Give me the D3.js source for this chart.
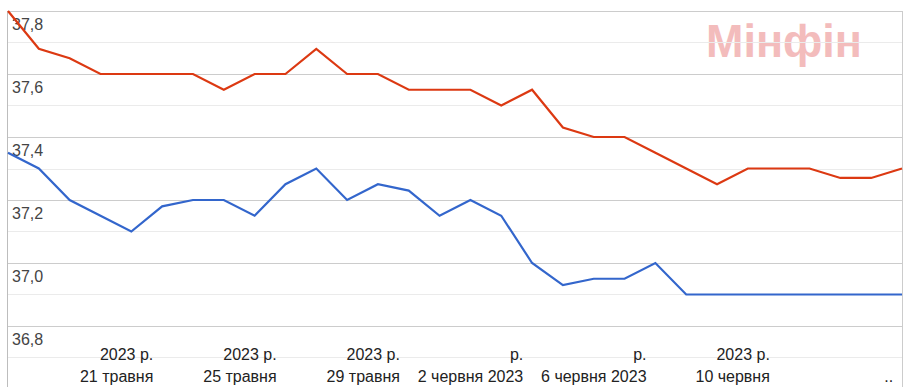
<!DOCTYPE html>
<html>
<head>
<meta charset="utf-8">
<script src="https://cdn.jsdelivr.net/npm/d3@7"></script>
<style>
body { margin: 0; background: #fff; }
text { font-family: "Liberation Sans", Arial, sans-serif; }
</style>
</head>
<body>
<div id="plot"></div>
<script>
// Data: cash USD rate, sale (red) and buy (blue), one point per day
const startDay = "2023-05-17";
const endDay = "2023-06-16"; // exclusive
const sale = [37.80, 37.68, 37.65, 37.60, 37.60, 37.60, 37.60, 37.55, 37.60, 37.60,
              37.68, 37.60, 37.60, 37.55, 37.55, 37.55, 37.50, 37.55, 37.43, 37.40,
              37.40, 37.35, 37.30, 37.25, 37.30, 37.30, 37.30, 37.27, 37.27, 37.30];
const buy = [37.35, 37.30, 37.20, 37.15, 37.10, 37.18, 37.20, 37.20, 37.15, 37.25,
             37.30, 37.20, 37.25, 37.23, 37.15, 37.20, 37.15, 37.00, 36.93, 36.95,
             36.95, 37.00, 36.90, 36.90, 36.90, 36.90, 36.90, 36.90, 36.90, 36.90];
const yTicks = [36.8, 37.0, 37.2, 37.4, 37.6, 37.8];
const yGrid = [36.7, 36.8, 36.9, 37.0, 37.1, 37.2, 37.3, 37.4, 37.5, 37.6, 37.7, 37.8];
const xTickDays = ["2023-05-21", "2023-05-25", "2023-05-29", "2023-06-02", "2023-06-06", "2023-06-10", "2023-06-14"];
const xTickLabels = [
    ["2023 р.", "21 травня"],
    ["2023 р.", "25 травня"],
    ["2023 р.", "29 травня"],
    ["р.", "2 червня 2023"],
    ["р.", "6 червня 2023"],
    ["2023 р.", "10 червня"],
    ["", ".."]
];

const width = 903, height = 387;
const parse = d3.timeParse("%Y-%m-%d");
const days = d3.timeDay.range(parse(startDay), parse(endDay));

d3.select("#plot")
    .append("svg")
    .attr("width", width)
    .attr("height", height);

const svg = d3.select("svg");

const x = d3.scaleTime()
    .domain([days[0], days[days.length - 1]])
    .range([8, 902]);

const y = d3.scaleLinear()
    .domain([36.8, 37.8])
    .range([326, 11]);

// Watermark (under the gridlines)
svg.append("text")
    .attr("x", 706)
    .attr("y", 57)
    .attr("font-size", 47)
    .attr("font-weight", "bold")
    .attr("fill", "#f3bcbc")
    .attr("textLength", 156)
    .attr("lengthAdjust", "spacingAndGlyphs")
    .text("Мінфін");

const isMajor = (v) => Math.round(v * 10) % 2 === 0;

// Minor gridlines first, then major ones on top
svg.selectAll("line.minor").data(yGrid.filter(v => !isMajor(v))).enter().append("line")
    .attr("class", "minor")
    .attr("x1", 8).attr("x2", 902)
    .attr("y1", d => Math.round(y(d)) + 0.5)
    .attr("y2", d => Math.round(y(d)) + 0.5)
    .attr("stroke", "#ebebeb");

svg.selectAll("line.major").data(yGrid.filter(isMajor)).enter().append("line")
    .attr("class", "major")
    .attr("x1", 8).attr("x2", 902)
    .attr("y1", d => Math.round(y(d)) + 0.5)
    .attr("y2", d => Math.round(y(d)) + 0.5)
    .attr("stroke", "#cccccc");

// Right border and left axis line
svg.append("line")
    .attr("x1", 902.5).attr("x2", 902.5)
    .attr("y1", 11).attr("y2", height)
    .attr("stroke", "#cccccc");

svg.append("line")
    .attr("x1", 7.5).attr("x2", 7.5)
    .attr("y1", 11).attr("y2", height)
    .attr("stroke", "#bdbdbd");

// Y labels, inside the plot just below each line
svg.selectAll("text.ylab").data(yTicks).enter().append("text")
    .attr("class", "ylab")
    .attr("x", 12)
    .attr("y", d => y(d) + 19)
    .attr("font-size", 16)
    .attr("fill", "#444")
    .text(d => d3.format(".1f")(d).replace(".", ","));

// Series lines
const line = d3.line()
    .x((d, i) => x(days[i]))
    .y(d => y(d));

svg.append("path")
    .datum(buy)
    .attr("d", line)
    .attr("fill", "none")
    .attr("stroke", "#3366cc")
    .attr("stroke-width", 2.2);

svg.append("path")
    .datum(sale)
    .attr("d", line)
    .attr("fill", "none")
    .attr("stroke", "#dc3912")
    .attr("stroke-width", 2.2);

// X labels, two lines, right aligned
const xt = svg.selectAll("g.xlab").data(xTickDays).enter().append("g")
    .attr("class", "xlab")
    .attr("transform", d => "translate(" + (x(parse(d)) + 22) + ",0)");

xt.append("text")
    .attr("y", 359.5)
    .attr("text-anchor", "end")
    .attr("font-size", 16)
    .attr("fill", "#222")
    .text((d, i) => xTickLabels[i][0]);

xt.append("text")
    .attr("y", 381.5)
    .attr("text-anchor", "end")
    .attr("font-size", 16)
    .attr("fill", "#222")
    .text((d, i) => xTickLabels[i][1]);
</script>
</body>
</html>
